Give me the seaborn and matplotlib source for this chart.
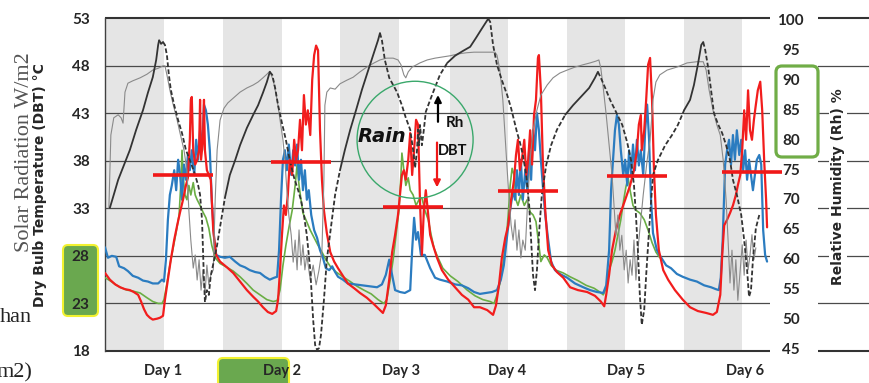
import numpy as np
import pandas as pd
import matplotlib
matplotlib.use("Agg")
import matplotlib.pyplot as plt
import seaborn as sns
from matplotlib.patches import FancyBboxPatch, Rectangle, Ellipse
from matplotlib.collections import LineCollection
from matplotlib.transforms import IdentityTransform

# ---------------- data ----------------
day_labels = ["Day 1", "Day 2", "Day 3", "Day 4", "Day 5", "Day 6"]
day_tick_hours = [11.9, 36.3, 60.8, 82.5, 106.9, 131.3]
night_start = [0.0, 24.3, 48.2, 70.8, 94.8, 118.8]
night_end = [12.1, 36.3, 60.3, 82.7, 106.7, 130.7]
dbt_ticks = [18, 23, 28, 33, 38, 43, 48, 53]
rh_ticks = [45, 50, 55, 60, 65, 70, 75, 80, 85, 90, 95, 100]

# daily mean DBT (red bars): start hour and value
mean_start = [9.8, 34.1, 57.0, 80.6, 103.0, 126.6]
mean_dbt = [36.5, 37.9, 33.1, 34.8, 36.4, 36.8]
mean_span = 12.3

# blue DBT sensor
blue_hours = [0, 0.6, 1.4, 2.3, 2.9, 3.9, 4.7, 5.7, 6.8, 7.8, 8.8, 9.8, 10.9, 11.7, 12.1,
              12.5, 12.9, 13.3, 13.7, 14.2, 14.6, 15.0, 15.4, 15.8, 16.2, 16.6, 17.0, 17.4, 17.8,
              18.3, 18.7, 19.1, 19.5, 19.9, 20.3, 20.7, 21.1, 21.5, 21.9, 22.4, 22.8,
              23.6, 24.6, 25.6, 26.7, 27.7, 28.7, 29.7, 30.8, 31.8, 32.8, 33.8, 34.7, 35.3,
              35.7, 36.1, 36.5, 36.9, 37.3, 37.7, 38.2, 38.6, 39.0, 39.4, 39.8, 40.2, 40.6, 41.0,
              41.4, 41.8, 42.3, 42.9, 43.5, 44.1, 44.7, 45.3, 46.0, 46.6, 47.2, 47.8,
              48.8, 49.8, 51.3, 52.7, 54.4, 55.8, 56.8, 57.6, 58.3, 58.7, 59.5, 60.5, 61.5, 62.6,
              63.0, 63.4, 63.8, 64.2, 64.8, 65.6, 66.7, 67.7, 68.7,
              70.2, 71.8, 73.2, 74.5, 75.7, 76.9, 78.2, 79.4, 80.4, 81.2, 81.8, 82.5, 83.1, 83.7,
              84.1, 84.5, 84.9, 85.3, 85.7, 86.2, 86.6, 87.0, 87.4, 87.8, 88.2, 88.6, 89.0, 89.4,
              89.8, 90.3, 90.9, 91.5, 92.3, 93.3, 94.8,
              96.4, 98.1, 99.5, 100.9, 102.2, 102.8, 103.4, 103.8, 104.2, 104.6, 105.0, 105.4,
              105.8, 106.3,
              106.7, 107.1, 107.5, 107.9, 108.3, 108.7, 109.1, 109.5, 109.9, 110.4, 110.8, 111.2,
              111.6, 112.0, 112.4, 113.2, 114.1, 115.1, 116.1, 117.3,
              118.5, 120.0, 121.4, 122.9, 124.3, 125.3, 125.9, 126.3, 126.7, 127.2, 127.6,
              128.0, 128.4, 128.8, 129.2, 129.6, 130.1, 130.5, 130.9, 131.3, 131.7, 132.1, 132.5,
              132.9, 133.3, 133.7, 134.2, 134.6, 135.0, 135.4, 135.8]
blue_dbt = [28.9, 27.8, 28.0, 27.9, 26.9, 26.7, 26.4, 25.9, 25.7, 25.4, 25.3, 25.1, 25.1, 25.5, 25.3,
            27.6, 31.8, 34.4, 35.4, 37.0, 34.9, 38.1, 36.5, 33.9, 37.6, 36.0, 38.6, 37.0, 39.1,
            36.5, 40.2, 38.1, 41.2, 39.1, 43.9, 43.3, 41.8, 39.1, 33.9, 29.7, 28.1,
            27.9, 27.8, 27.9, 27.4, 27.0, 26.8, 26.5, 26.3, 26.2, 25.8, 25.5, 25.7, 25.8,
            28.6, 33.9, 38.1, 39.1, 37.0, 39.7, 36.5, 39.1, 37.5, 39.7, 36.0, 38.1, 34.9, 37.0,
            33.9, 34.9, 32.3, 30.7, 29.9, 28.6, 27.8, 26.7, 26.5, 26.9, 26.3, 25.8,
            25.5, 25.1, 25.0, 24.9, 24.8, 24.7, 25.0, 26.0, 27.6, 26.5, 24.4, 24.2, 24.1, 24.4,
            28.6, 32.0, 29.7, 30.5, 28.1, 28.1, 26.7, 25.7, 25.5,
            25.3, 25.0, 24.9, 24.6, 24.2, 24.0, 24.1, 24.2, 24.4, 25.5, 27.0, 30.2, 32.8, 34.9,
            33.9, 37.0, 34.4, 38.1, 33.9, 37.0, 34.9, 39.1, 36.0, 41.2, 39.1, 43.0, 41.2, 38.1,
            35.4, 32.3, 29.7, 27.4, 26.5, 26.1, 25.7,
            25.1, 24.7, 24.4, 24.2, 24.1, 24.9, 28.6, 34.9, 38.1, 41.2, 42.8, 41.8,
            39.1, 36.5,
            38.1, 35.4, 39.1, 36.5, 39.7, 37.0, 40.2, 37.5, 39.1, 36.5, 41.2, 43.9,
            40.2, 33.9, 30.4, 28.6, 27.8, 27.0, 26.7, 26.1,
            25.8, 25.5, 25.3, 24.9, 24.7, 24.5, 24.4, 25.7, 29.7, 37.6, 39.1,
            40.2, 37.6, 40.7, 38.1, 41.2, 38.6, 40.2, 37.0, 39.1, 36.0, 38.1, 36.5,
            34.9, 36.5, 38.1, 38.6, 37.6, 30.7, 28.1, 27.4]

# red DBT sensor
red_hours = [0, 1.0, 2.1, 3.1, 4.1, 5.1, 5.9, 6.8, 7.4, 8.0, 8.6, 9.2, 9.8, 10.7, 11.3, 11.9,
             12.3, 12.9, 13.5, 14.2, 14.8, 15.4, 16.0, 16.6, 17.0, 17.4, 17.6, 17.8, 18.1, 18.5,
             18.9, 19.3, 19.5, 19.7, 20.1, 20.3, 20.5, 20.9, 21.3, 21.7, 22.2, 22.8,
             23.6, 25.0, 26.3, 27.7, 29.1, 30.4, 31.4, 32.4, 33.4, 34.3, 35.1, 35.5,
             35.9, 36.3, 36.7, 37.1, 37.5, 37.9, 38.4, 38.8, 39.2, 39.6, 40.0, 40.4, 40.8, 41.2,
             41.6, 42.1, 42.5, 42.9, 43.3, 43.7, 43.9, 44.1, 44.5, 44.9, 45.5, 46.2, 47.0, 47.8,
             48.8, 49.8, 51.1, 52.3, 53.7, 55.0, 56.0, 57.0, 57.6, 58.3, 58.9, 59.5, 60.1,
             60.5, 60.9, 61.3, 61.7, 62.2, 62.6, 63.0, 63.4, 63.8, 64.2, 64.6, 65.0, 65.4, 65.8,
             66.3, 66.7, 67.3, 68.1, 69.1,
             70.4, 71.8, 73.2, 74.5, 75.7, 76.9, 78.4, 79.6, 80.2, 80.8, 81.4, 82.1, 82.7, 83.3,
             83.9,
             84.3, 84.7, 85.1, 85.5, 86.0, 86.4, 86.8, 87.2, 87.6, 88.0, 88.4, 88.8, 89.0, 89.4,
             89.8, 90.3, 90.9, 91.7, 92.7, 94.0,
             95.4, 97.0, 98.9, 100.5, 101.7, 102.4, 102.8, 103.4, 104.0, 104.8, 105.6,
             106.7, 107.7, 108.5, 109.1, 109.5, 109.9, 110.1, 110.6, 111.0, 111.4, 111.8, 112.2,
             112.6, 113.0, 113.6, 114.5, 115.5, 116.9,
             118.5, 120.0, 121.6, 123.3, 124.7, 125.5, 126.2, 126.6, 127.0, 127.6, 128.2, 128.8,
             129.4, 129.8, 130.3,
             130.7, 131.1, 131.5, 131.9, 132.3, 132.7, 133.1, 133.5, 133.9, 134.4, 134.8, 135.2,
             135.6, 135.8]
red_dbt = [26.2, 25.5, 25.0, 24.7, 24.5, 24.4, 24.2, 23.9, 23.2, 22.4, 21.8, 21.5, 21.3, 21.4, 21.5, 21.7,
           23.4, 25.5, 27.6, 29.7, 31.2, 32.6, 33.9, 35.4, 36.2, 40.2, 44.4, 44.7, 39.1, 37.6,
           38.1, 39.1, 44.4, 38.1, 40.2, 44.4, 39.1, 37.0, 36.5, 36.0, 30.7, 28.1,
           27.4, 26.8, 26.2, 25.3, 24.4, 23.7, 23.2, 22.6, 22.1, 21.9, 22.2, 23.4,
           26.5, 30.2, 33.3, 32.3, 34.4, 38.1, 36.5, 40.2, 38.1, 39.1, 42.3, 39.1, 44.9, 41.8,
           43.3, 40.7, 46.5, 49.1, 50.1, 49.6, 45.4, 41.2, 36.0, 32.8, 30.4, 28.4, 27.4, 26.7,
           25.9, 25.1, 24.6, 24.1, 23.6, 23.0, 22.5, 22.0, 22.8, 25.5, 28.4, 30.2, 32.3,
           34.4, 36.5, 37.0, 36.0, 38.1, 40.9, 36.5, 39.1, 42.3, 41.8, 33.9, 28.1, 32.8, 34.9,
           32.3, 30.2, 29.1, 27.8, 26.5,
           25.5, 24.7, 23.9, 23.4, 22.6, 22.6, 22.3, 21.8, 22.8, 24.9, 27.8, 29.9, 31.2, 33.9,
           36.0,
           38.6, 40.2, 37.0, 38.1, 40.2, 36.5, 38.1, 41.2, 37.6, 42.8, 44.4, 48.8, 49.1, 45.4,
           38.1, 32.8, 28.6, 27.0, 26.3, 25.7,
           24.7, 24.4, 24.2, 23.8, 23.2, 22.7, 23.9, 26.0, 28.6, 30.7, 32.3,
           33.9, 35.4, 37.0, 39.1, 41.8, 42.8, 39.1, 41.2, 44.4, 48.1, 48.8, 44.4,
           37.0, 32.3, 28.6, 26.5, 25.5, 24.4,
           23.4, 22.6, 22.2, 22.0, 21.8, 22.1, 23.9, 28.1, 31.2, 31.8, 32.5, 33.3,
           34.4, 35.4, 36.5,
           39.1, 43.3, 40.2, 45.4, 41.2, 40.2, 42.3, 43.9, 45.4, 46.3, 43.3, 38.1,
           33.9, 31.0]

# green DBT sensor (record ends during day 5)
green_hours = [0, 1.0, 2.1, 3.1, 4.5, 5.7, 7.2, 8.6, 9.8, 10.9, 11.7, 12.1,
               12.7, 13.3, 13.9, 14.6, 15.2, 15.6, 15.8, 16.0, 16.4, 16.8, 17.2, 17.6, 18.1, 18.5,
               18.9, 19.5, 20.1, 20.7, 21.3, 21.9, 22.6,
               23.6, 25.0, 26.3, 27.7, 29.1, 30.4, 31.8, 33.2, 34.5, 35.3, 35.9,
               36.5, 37.1, 37.7, 38.4, 39.0, 39.4, 39.8, 40.2, 40.6, 41.2, 42.1, 42.9, 43.7, 44.5,
               45.3, 46.2, 47.4,
               48.8, 50.3, 51.7, 53.1, 54.6, 56.0, 57.2, 57.8, 58.5, 59.1, 59.7, 60.3,
               60.7, 60.9, 61.3, 61.7, 62.2, 62.6, 63.2, 63.8, 64.4, 65.0, 65.6, 66.3, 66.9, 67.5,
               68.3, 69.3,
               70.8, 72.4, 74.3, 75.9, 77.5, 79.0, 79.8, 80.4, 81.0, 81.6, 82.3, 82.7,
               83.1, 83.5, 83.9, 84.3, 84.7, 85.3, 86.0, 86.6, 87.2, 87.8, 88.4, 89.0, 89.4, 90.1,
               90.7, 91.5, 92.5, 94.0,
               95.4, 97.0, 98.7, 100.3, 101.5, 102.2, 102.8, 103.4, 104.0, 104.6, 105.2, 105.8,
               106.4,
               106.9, 107.3, 107.7, 108.3, 108.9, 109.7, 110.6, 111.4, 112.2, 113.0, 113.8]
green_dbt = [25.7, 25.4, 25.0, 24.7, 24.4, 24.3, 24.1, 23.6, 23.2, 23.0, 23.0, 23.4,
             25.1, 27.0, 28.6, 30.5, 32.3, 36.0, 39.1, 36.5, 34.4, 33.9, 35.4, 34.4, 35.7, 34.4,
             33.9, 33.3, 32.6, 32.0, 30.9, 29.1, 27.8,
             27.2, 26.8, 26.4, 25.8, 25.1, 24.4, 23.9, 23.4, 23.2, 23.3, 24.4,
             27.0, 29.1, 30.9, 32.8, 35.4, 37.6, 35.4, 33.9, 32.5, 31.8, 30.7, 29.9, 29.1, 28.4,
             27.6, 26.9, 26.3,
             25.8, 25.3, 24.8, 24.4, 24.0, 23.4, 23.0, 23.4, 25.5, 27.6, 30.2, 32.8,
             36.5, 38.8, 37.0, 35.4, 36.2, 34.9, 34.4, 33.3, 33.9, 34.1, 32.8, 31.8, 30.2, 28.8,
             27.8, 26.7,
             25.9, 25.3, 24.4, 23.8, 23.4, 23.2, 23.0, 23.9, 25.1, 27.0, 29.7, 32.3,
             35.4, 37.2, 36.5, 33.9, 33.3, 34.4, 33.3, 33.9, 32.6, 32.3, 31.6, 29.1, 27.4, 28.1,
             27.8, 27.0, 26.5, 26.2,
             25.8, 25.4, 24.9, 24.6, 24.2, 23.9, 24.6, 26.5, 27.4, 28.6, 30.2, 31.8,
             33.9,
             35.4, 36.2, 34.9, 33.3, 32.8, 32.5, 31.8, 30.7, 29.4, 28.4, 27.8]

# relative humidity, dark record
rh_dark_hours = [1.0, 1.8, 2.7, 3.9, 5.1, 6.4, 7.8, 8.8, 9.8, 10.5,
                 10.9, 11.1, 11.5, 11.9, 12.3, 12.7, 13.1, 13.5, 14.2, 15.0,
                 15.8, 16.6, 17.4, 18.3, 19.1, 19.5, 19.9, 20.1, 20.3, 20.5,
                 20.9, 21.3, 21.7, 22.4, 23.0, 23.6, 24.6, 25.6, 26.7, 27.7,
                 29.1, 30.4, 31.4, 32.4, 33.2, 33.8, 34.3, 34.9, 35.5, 36.3,
                 37.1, 37.9, 38.8, 39.6, 40.2, 40.8, 41.4, 42.1, 42.7, 43.1,
                 43.5, 43.9, 44.3, 44.9, 45.5, 46.4, 47.2, 48.2, 49.2, 50.3,
                 51.5, 52.7, 54.0, 55.2, 56.0, 56.4, 56.8, 57.4, 58.3, 59.1,
                 59.9, 60.9, 61.7, 62.6, 63.2, 63.6, 64.0, 64.2, 64.4, 64.6,
                 65.0, 65.4, 65.8, 66.7, 67.5, 68.7, 70.2, 71.8, 73.4, 74.9,
                 76.1, 77.1, 78.2, 78.6, 79.0, 79.6, 80.4, 81.4, 82.5, 83.3,
                 83.9, 84.5, 85.1, 85.7, 86.4, 87.0, 87.4, 87.8, 88.2, 88.6,
                 89.0, 89.6, 90.5, 91.5, 92.7, 94.4, 96.0, 97.6, 99.3, 100.5,
                 101.1, 101.7, 102.6, 103.6, 104.8, 106.1, 107.1, 107.9, 108.5, 108.9,
                 109.3, 109.7, 110.1, 110.6, 111.0, 111.4, 111.8, 112.4, 113.4, 114.9,
                 116.3, 117.5, 118.8, 120.0, 120.8, 121.6, 122.3, 122.7, 123.1, 123.7,
                 124.3, 124.9, 125.7, 126.6, 127.4, 128.2, 128.8, 129.6, 130.5, 131.1,
                 131.7, 132.1, 132.5, 132.9, 133.5, 134.2]
rh_dark = [68.5, 70.7, 73.2, 75.7, 78.2, 81.6, 84.9, 87.8, 90.4, 93.3,
           95.8, 96.6, 96.0, 96.3, 95.8, 94.1, 90.8, 88.3, 85.7, 83.2,
           81.0, 78.2, 76.5, 74.5, 72.3, 70.7, 66.5, 61.4, 56.4, 52.7,
           54.7, 53.9, 57.2, 59.8, 62.3, 65.3, 70.2, 74.0, 76.5, 79.0,
           81.9, 84.1, 85.7, 87.8, 89.6, 91.3, 90.8, 88.6, 85.7, 82.7,
           79.9, 76.5, 73.5, 71.5, 69.8, 67.3, 63.9, 58.1, 49.7, 45.5,
           44.7, 45.0, 47.2, 53.0, 59.8, 65.6, 70.7, 74.8, 78.2, 81.6,
           84.9, 88.3, 91.6, 94.6, 96.6, 97.8, 96.6, 93.3, 90.3, 89.1,
           87.9, 85.7, 83.6, 81.6, 78.2, 75.2, 78.2, 81.6, 79.0, 82.4,
           79.0, 81.6, 84.6, 86.6, 88.3, 90.8, 92.8, 94.0, 94.8, 95.5,
           97.0, 98.3, 99.7, 100.2, 99.7, 95.8, 92.5, 89.9, 87.4, 85.2,
           83.2, 81.2, 79.5, 77.4, 74.0, 69.0, 63.1, 57.2, 54.7, 58.1,
           63.9, 70.7, 75.7, 79.0, 81.6, 84.1, 85.7, 87.1, 88.6, 90.3,
           91.3, 90.3, 88.6, 86.6, 84.6, 82.4, 79.5, 76.5, 72.3, 67.3,
           61.4, 53.9, 48.9, 51.4, 57.2, 62.3, 67.3, 74.0, 76.5, 79.0,
           80.7, 82.4, 84.9, 86.6, 89.1, 92.5, 95.8, 96.3, 95.0, 92.1,
           88.3, 84.4, 82.6, 81.0, 79.0, 76.5, 73.2, 70.7, 67.3, 63.1,
           58.1, 53.6, 54.7, 59.8, 65.1, 67.3]

# relative humidity, light record
rh_light_hours = [0.8, 1.2, 1.8, 2.7, 3.3, 3.7, 4.1, 4.7, 5.7, 7.2,
                  8.6, 9.8, 10.9, 11.9, 12.3, 12.7, 13.3, 13.9, 14.8, 15.4,
                  16.2, 16.8, 17.2, 17.6, 18.1, 18.5, 18.9, 19.3, 19.7, 20.1,
                  20.5, 20.9, 21.3, 21.7, 22.2, 22.6, 23.0, 23.6, 24.4, 25.2,
                  26.3, 27.7, 29.1, 30.4, 31.4, 32.4, 33.2, 33.8, 34.5, 35.3,
                  35.9, 36.5, 36.9, 37.3, 37.7, 38.2, 38.6, 39.0, 39.4, 39.8,
                  40.2, 40.6, 41.0, 41.4, 42.1, 42.7, 43.3, 43.9, 44.5, 44.9,
                  45.1, 45.5, 46.2, 47.2, 48.2, 49.6, 50.9, 52.3, 53.7, 55.2,
                  56.4, 57.8, 59.1, 60.1, 60.7, 61.3, 61.7, 62.2, 63.0, 64.6,
                  66.1, 67.7, 69.3, 70.8, 72.4, 74.1, 75.7, 77.3, 79.0, 80.0,
                  80.4, 81.0, 81.6, 82.1, 82.5, 82.9, 83.3, 83.7, 84.1, 84.5,
                  84.9, 85.3, 85.7, 86.2, 86.6, 87.2, 87.8, 88.6, 89.4, 90.7,
                  91.9, 93.3, 94.8, 96.4, 98.1, 99.5, 100.7, 101.3, 101.7, 102.2,
                  102.8, 103.4, 104.0, 104.4, 104.8, 105.2, 105.6, 106.0, 106.5, 106.9,
                  107.3, 107.7, 108.1, 108.5, 108.9, 109.3, 109.7, 110.4, 111.2, 111.8,
                  112.4, 113.0, 113.8, 115.3, 117.3, 119.4, 121.4, 122.7, 123.3, 123.9,
                  124.7, 125.5, 126.2, 126.8, 127.4, 127.8, 128.2, 128.6, 129.0, 129.4,
                  129.8, 130.3, 130.7, 131.1, 131.5, 131.9, 132.3, 132.7, 133.1, 133.5]
rh_light = [68.5, 80.7, 83.6, 84.1, 83.6, 82.7, 87.9, 89.4, 89.8, 90.3,
            90.9, 91.6, 91.9, 92.3, 92.3, 90.8, 88.3, 86.1, 83.2, 81.0,
            78.2, 74.8, 68.1, 63.1, 58.4, 60.6, 56.4, 59.8, 54.7, 58.1,
            53.9, 58.9, 55.6, 57.2, 58.1, 69.8, 78.2, 83.2, 85.2, 86.1,
            86.9, 87.9, 88.6, 89.1, 89.6, 90.3, 90.9, 91.4, 89.9, 86.6,
            83.2, 79.9, 76.5, 71.5, 67.3, 63.9, 59.4, 63.1, 58.1, 64.8,
            58.9, 62.3, 58.1, 60.6, 56.4, 58.9, 55.6, 58.1, 61.4, 73.2,
            85.7, 87.9, 88.6, 88.4, 89.3, 89.9, 90.4, 91.3, 92.1, 92.8,
            93.3, 93.6, 93.6, 93.3, 92.5, 90.8, 90.3, 91.3, 92.1, 92.8,
            93.3, 93.6, 93.8, 94.0, 94.3, 94.5, 94.6, 94.6, 94.6, 94.6,
            94.1, 91.6, 86.6, 79.9, 74.8, 69.8, 65.6, 63.1, 66.5, 61.4,
            64.8, 60.1, 63.1, 61.4, 68.1, 76.5, 81.6, 84.9, 87.4, 89.1,
            90.3, 91.1, 91.6, 92.1, 92.5, 92.8, 93.1, 93.3, 91.9, 88.6,
            84.1, 79.0, 74.0, 69.0, 63.9, 67.3, 61.4, 63.9, 58.1, 61.4,
            55.9, 59.8, 57.2, 63.1, 56.4, 61.4, 64.8, 70.7, 76.5, 79.9,
            86.6, 89.6, 90.8, 91.6, 92.1, 92.8, 93.0, 93.0, 91.6, 88.3,
            84.9, 82.4, 80.7, 76.5, 69.8, 63.1, 55.9, 61.4, 54.7, 59.8,
            53.0, 58.1, 62.3, 57.2, 63.1, 58.1, 60.6, 64.0, 59.8, 61.8]

# ---------------- figure ----------------
W, H = 870, 383
sns.set_theme(style="white")
plt.rcParams["font.family"] = ["Lato", "DejaVu Sans"]
plt.rcParams["text.color"] = "#1a1a1a"

fig = plt.figure(figsize=(W / 100, H / 100), dpi=100)
ax = fig.add_axes([105 / W, (H - 351) / H, 665 / W, 333 / H])
ax2 = ax.twinx()
px = IdentityTransform()

# night shading
for s, e in zip(night_start, night_end):
    ax.axvspan(s, e, color="#e5e5e5", lw=0, zorder=0)

# horizontal rules, running out past the right-hand axis
ax.hlines(dbt_ticks[1:-1], 0, 160, colors="#4a4a4a", lw=0.9, clip_on=False, zorder=1)
ax.hlines([dbt_ticks[0], dbt_ticks[-1]], 0, 160, colors="#333333", lw=1.5, clip_on=False, zorder=1)

# temperature records
line_kw = dict(ax=ax, estimator=None, sort=False, legend=False)
sns.lineplot(x=green_hours, y=green_dbt, color="#6aae44", linewidth=1.2, zorder=3, **line_kw)
sns.lineplot(x=blue_hours, y=blue_dbt, color="#2b7cc0", linewidth=1.6, zorder=4, **line_kw)
sns.lineplot(x=red_hours, y=red_dbt, color="#f21d1d", linewidth=1.6, zorder=5, **line_kw)

# humidity: light record
sns.lineplot(x=rh_light_hours, y=rh_light, ax=ax2, color="#8a8a8a", linewidth=0.8,
             estimator=None, sort=False, legend=False, zorder=2)

# humidity: dark record, solid while rising at night, dashed otherwise
t = np.asarray(rh_dark_hours)
v = np.asarray(rh_dark)
mid = (t[:-1] + t[1:]) / 2
night = np.zeros(len(mid), dtype=bool)
for s, e in zip(night_start, night_end):
    night |= (mid >= s) & (mid <= e)
solid = night & (np.diff(v) >= 0)
rows, seg, start = [], 0, 0
for i in range(1, len(solid) + 1):
    if i == len(solid) or solid[i] != solid[start]:
        phase = "night" if solid[start] else "day"
        for j in range(start, i + 1):
            rows.append((seg, phase, t[j], v[j]))
        seg += 1
        start = i
dark_df = pd.DataFrame(rows, columns=["seg", "phase", "hour", "rh"])
sns.lineplot(data=dark_df, x="hour", y="rh", units="seg", style="phase",
             dashes={"night": "", "day": (2.6, 1.3)}, estimator=None, sort=False,
             color="#333333", linewidth=1.3, legend=False, ax=ax2, zorder=3)

# axes ranges and ticks
ax.set_xlim(0, 136.4)
ax.set_ylim(18, 53)
ax2.set_ylim(44.5, 100.33)
ax.set_yticks(dbt_ticks)
ax.set_yticklabels([str(d) for d in dbt_ticks], fontweight="bold", fontsize=11)
ax.set_xticks(day_tick_hours)
ax.set_xticklabels(day_labels, fontweight="bold", fontsize=10.5)
ax.tick_params(axis="y", length=0, pad=11)
ax.tick_params(axis="x", length=0, pad=9)
ax2.set_yticks(rh_ticks)
ax2.set_yticklabels([str(r) for r in rh_ticks], fontweight="bold", fontsize=11)
ax2.tick_params(axis="y", length=0, pad=15)
for lab in ax2.get_yticklabels():
    lab.set_horizontalalignment("center")
ax.set_xlabel("")
for name, sp in ax.spines.items():
    sp.set_visible(name == "left")
ax.spines["left"].set_color("#404040")
ax.spines["left"].set_linewidth(1.0)
for sp in ax2.spines.values():
    sp.set_visible(False)
ax.grid(False)
ax2.grid(False)

ax.set_ylabel("Dry Bulb Temperature (DBT) °C", fontweight="bold", fontsize=10,
              family="DejaVu Sans")
ax.yaxis.set_label_coords(-0.0872, 0.498)
ax2.set_ylabel("Relative Humidity (Rh) %", fontweight="bold", fontsize=10,
               family="DejaVu Sans")
ax2.yaxis.set_label_coords(1.0917, 0.494)
ax2.yaxis.label.set_bbox(dict(facecolor="white", edgecolor="none", pad=1.5))

# blank column behind the humidity scale
ax2.add_artist(Rectangle((770, 0), 48, H, transform=px, facecolor="white",
                         edgecolor="none", zorder=0.1, clip_on=False))
ax2.add_artist(FancyBboxPatch((776, 226), 42, 91, boxstyle="round,pad=0,rounding_size=6",
                              transform=px, facecolor="white", edgecolor="#70ad47",
                              lw=2.3, zorder=0.2, clip_on=False))
# highlighted labels
ax.add_artist(FancyBboxPatch((63, 67), 35, 71, boxstyle="round,pad=0,rounding_size=5",
                             transform=px, facecolor="#6aa84f", edgecolor="#f2f230",
                             lw=1.5, zorder=0.1, clip_on=False))
ax.add_artist(FancyBboxPatch((218, -6), 71, 31, boxstyle="round,pad=0,rounding_size=5",
                             transform=px, facecolor="#6aa84f", edgecolor="#f2f230",
                             lw=1.5, zorder=0.1, clip_on=False))

# daily mean bars
segs = [[(s, m), (s + mean_span, m)] for s, m in zip(mean_start, mean_dbt)]
ax2.add_collection(LineCollection(segs, colors="#f01818", linewidths=2.6,
                                  transform=ax.transData, zorder=6, clip_on=False),
                   autolim=False)

# rain event note
ax2.add_artist(Ellipse((63.6, 40.2), 23.8, 12.3, transform=ax.transData, fill=False,
                       edgecolor="#3aa86b", lw=1.0, zorder=7))
ax2.text(56.8, 40.5, "Rain", transform=ax.transData, ha="center", va="center",
         fontsize=14, fontweight="bold", fontstyle="italic", family="DejaVu Sans",
         color="#111111", zorder=8)
ax2.annotate("", xy=(68.3, 45.2), xytext=(68.3, 41.8), xycoords=ax.transData,
             textcoords=ax.transData,
             arrowprops=dict(arrowstyle="-|>", color="black", lw=1.6, mutation_scale=10),
             zorder=8)
ax2.annotate("", xy=(68.1, 34.9), xytext=(68.1, 40.2), xycoords=ax.transData,
             textcoords=ax.transData,
             arrowprops=dict(arrowstyle="-|>", color="#f01818", lw=1.6, mutation_scale=10),
             zorder=8)
ax2.text(71.8, 42.0, "Rh", transform=ax.transData, ha="center", va="center",
         fontsize=11, fontweight="bold", color="#111111", zorder=8)
ax2.text(71.4, 39.0, "DBT", transform=ax.transData, ha="center", va="center",
         fontsize=10.5, fontweight="bold", color="#111111", zorder=8)

# surrounding page text
fig.text(25 / W, (H - 152) / H, "Solar Radiation W/m2", rotation=90, ha="center",
         va="center", family="Liberation Serif", fontsize=16, color="#555555")
fig.text(0, (H - 318) / H, "han", ha="left", va="center", family="Liberation Serif",
         fontsize=16, color="#222222")
fig.text(-3 / W, (H - 373) / H, "m2)", ha="left", va="center", family="Liberation Serif",
         fontsize=16, color="#222222")

fig.savefig("out.png", dpi=100)
